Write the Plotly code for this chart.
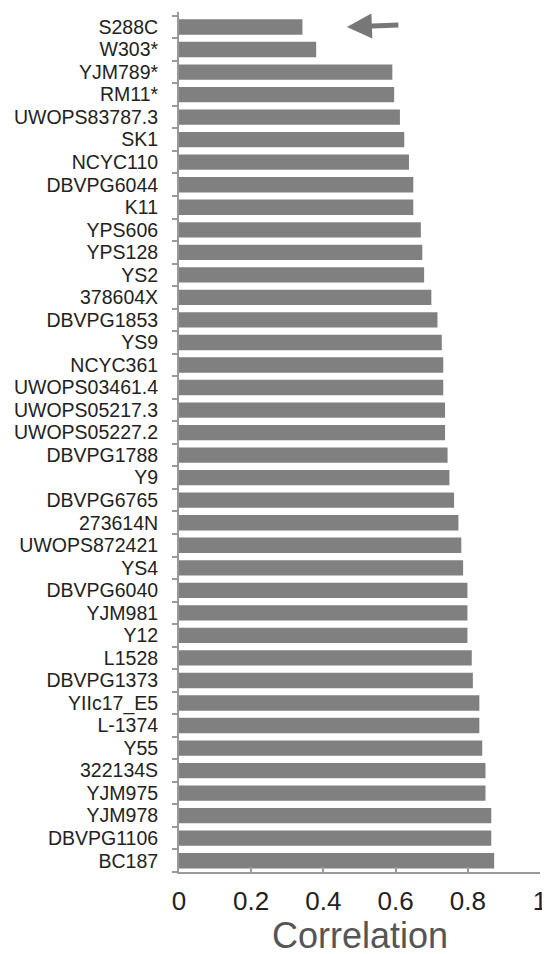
import plotly.graph_objects as go

# strains, top to bottom
strains = ['S288C', 'W303*', 'YJM789*', 'RM11*', 'UWOPS83787.3', 'SK1', 'NCYC110',
           'DBVPG6044', 'K11', 'YPS606', 'YPS128', 'YS2', '378604X', 'DBVPG1853',
           'YS9', 'NCYC361', 'UWOPS03461.4', 'UWOPS05217.3', 'UWOPS05227.2',
           'DBVPG1788', 'Y9', 'DBVPG6765', '273614N', 'UWOPS872421', 'YS4',
           'DBVPG6040', 'YJM981', 'Y12', 'L1528', 'DBVPG1373', 'YIIc17_E5',
           'L-1374', 'Y55', '322134S', 'YJM975', 'YJM978', 'DBVPG1106', 'BC187']

correlation = [0.342, 0.380, 0.591, 0.596, 0.612, 0.624, 0.637,
               0.649, 0.649, 0.670, 0.674, 0.679, 0.699, 0.716,
               0.728, 0.732, 0.732, 0.737, 0.737,
               0.744, 0.749, 0.762, 0.774, 0.782, 0.787,
               0.799, 0.799, 0.799, 0.811, 0.814, 0.832,
               0.832, 0.840, 0.849, 0.849, 0.865, 0.865, 0.873]

x_ticks = [0, 0.2, 0.4, 0.6, 0.8, 1]

fig = go.Figure(go.Bar(
    x=correlation,
    y=strains,
    orientation='h',
    marker=dict(color='#808080', line=dict(width=0)),
    width=0.68,
))

# arrow pointing at the reference strain
fig.add_annotation(
    x=0.465, y='S288C', ax=53, ay=-2,
    showarrow=True, arrowhead=2, arrowsize=1.0, arrowwidth=5,
    arrowcolor='#777777', text='',
)

# x axis title as an annotation (standoff is ignored without automargin)
fig.add_annotation(
    text='Correlation', xref='paper', yref='paper', x=0.5, y=-0.074,
    xanchor='center', yanchor='middle', showarrow=False,
    font=dict(size=36, color='#555555'),
)

# page body has an 8px margin, so the figure is a bit smaller than the window
fig.update_layout(
    width=542, height=946,
    margin=dict(l=171, r=10, t=4, b=82),
    plot_bgcolor='white', paper_bgcolor='white',
    showlegend=False,
    font=dict(family='Liberation Sans, Arial, sans-serif', color='#222222'),
    xaxis=dict(
        range=[0, 1],
        automargin=False,
        tickvals=x_ticks,
        ticktext=[f'{v:g}' for v in x_ticks],
        tickfont=dict(size=26),
        ticks='inside', ticklen=5, tickwidth=2, tickcolor='#999999',
        ticklabelstandoff=5,
        showline=True, linecolor='#999999', linewidth=2,
        showgrid=False, zeroline=False,
    ),
    yaxis=dict(
        autorange='reversed',
        automargin=False,
        categoryorder='array', categoryarray=strains,
        tickmode='array', tickvals=strains,
        tickfont=dict(size=19.5),
        ticks='outside', ticklen=5, tickwidth=2, tickcolor='#999999',
        tickson='boundaries', ticklabelstandoff=15,
        showline=True, linecolor='#999999', linewidth=2,
        showgrid=False, zeroline=False,
    ),
)

fig.write_html('out.html')
